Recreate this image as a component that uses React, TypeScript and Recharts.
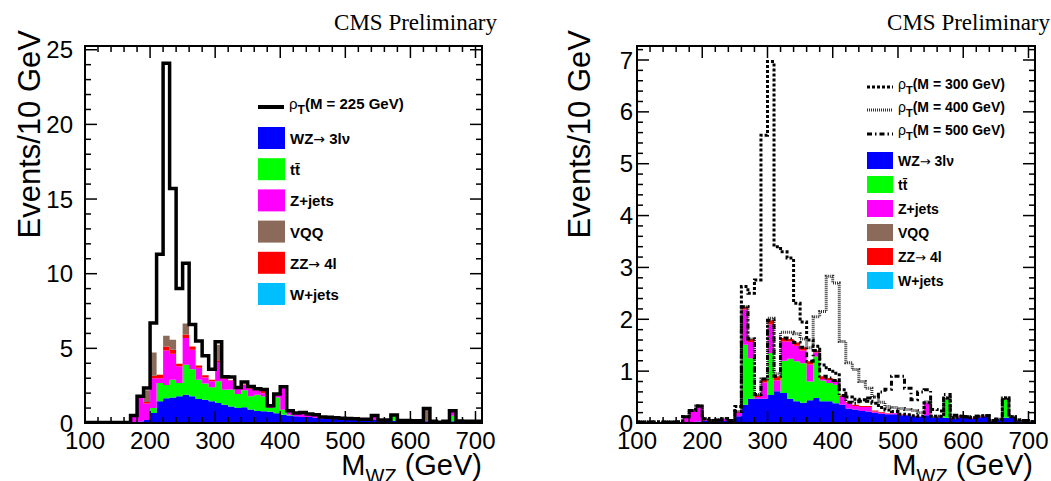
import React from "react";
import { ComposedChart, Area, Line, XAxis, YAxis } from "recharts";

// lower edges of the 10 GeV bins
const binLow = [
  100, 110, 120, 130, 140, 150, 160, 170, 180, 190,
  200, 210, 220, 230, 240, 250, 260, 270, 280, 290,
  300, 310, 320, 330, 340, 350, 360, 370, 380, 390,
  400, 410, 420, 430, 440, 450, 460, 470, 480, 490,
  500, 510, 520, 530, 540, 550, 560, 570, 580, 590,
  600, 610, 620, 630, 640, 650, 660, 670, 680, 690,
  700,
];

const xTicks = [
  100, 120, 140, 160, 180, 200, 220, 240, 260, 280, 300, 320, 340, 360, 380,
  400, 420, 440, 460, 480, 500, 520, 540, 560, 580, 600, 620, 640, 660, 680, 700,
];
const yTicksLeft = [
  0, 1, 2, 3, 4, 5, 6, 7, 8, 9, 10, 11, 12, 13, 14, 15, 16, 17, 18, 19, 20,
  21, 22, 23, 24, 25,
];
const yTicksRight = [
  0, 0.2, 0.4, 0.6, 0.8, 1, 1.2, 1.4, 1.6, 1.8, 2, 2.2, 2.4, 2.6, 2.8, 3, 3.2,
  3.4, 3.6, 3.8, 4, 4.2, 4.4, 4.6, 4.8, 5, 5.2, 5.4, 5.6, 5.8, 6, 6.2, 6.4,
  6.6, 6.8, 7, 7.2,
];

// ---- left panel (rho_T M = 225 GeV) ----
const leftWZ = [
  0.04, 0.04, 0.04, 0.04, 0.04, 0.04, 0.04, 0.05, 0.1, 0.2,
  0.67, 1.45, 1.65, 1.7, 1.8, 1.9, 1.8, 1.6, 1.55, 1.45,
  1.34, 1.23, 1.1, 1.0, 1.05, 0.9, 0.8, 0.78, 0.75, 0.65,
  0.56, 0.5, 0.45, 0.4, 0.4, 0.35, 0.3, 0.3, 0.28, 0.27,
  0.25, 0.25, 0.22, 0.2, 0.2, 0.18, 0.17, 0.15, 0.15, 0.14,
  0.13, 0.13, 0.12, 0.1, 0.05, 0.1, 0.12, 0.12, 0.1, 0.1,
  0.1,
];
const leftTT = [
  0, 0, 0, 0, 0, 0, 0, 0, 0, 0,
  0.33, 1.23, 0.9, 1.2, 0.88, 2.0, 1.8, 1.3, 1.1, 0.95,
  1.45, 1.0, 1.15, 0.95, 1.15, 0.9, 1.1, 1.0, 0.25, 1.05,
  0.33, 0.05, 0, 0, 0, 0, 0, 0, 0, 0,
  0, 0, 0, 0, 0, 0, 0, 0.38, 0, 0,
  0, 0, 0, 0, 0, 0, 0.37, 0, 0, 0,
  0,
];
const leftZJ = [
  0, 0, 0, 0, 0, 0, 0, 0.45, 1.65, 1.1,
  2.0, 0.32, 2.3, 1.74, 1.12, 1.8, 1.3, 0.8, 0.4, 0.4,
  1.29, 0.71, 0.6, 0.35, 0.35, 0.5, 0.3, 0.22, 0.08, 0.15,
  1.45, 0.25, 0.2, 0.3, 0.2, 0.2, 0.1, 0.08, 0.07, 0.05,
  0.05, 0.03, 0.03, 0.05, 0.3, 0.02, 0.03, 0, 0.02, 0.02,
  0.02, 0.02, 0, 0.02, 0, 0.02, 0.33, 0.02, 0.02, 0.02,
  0.02,
];
const leftZZ = [
  0, 0, 0, 0, 0, 0, 0, 0, 0, 0.1,
  0.17, 0.24, 0.27, 0.27, 0.17, 0.23, 0.23, 0.15, 0.15, 0.1,
  0.12, 0.05, 0.03, 0.03, 0.03, 0.1, 0.05, 0.2, 0.03, 0.05,
  0.05, 0.02, 0.02, 0, 0, 0, 0, 0, 0, 0,
  0, 0, 0, 0, 0, 0, 0, 0, 0, 0,
  0, 0, 0, 0, 0, 0, 0, 0, 0, 0,
  0,
];
const leftVQQ = [
  0, 0, 0, 0, 0, 0, 0, 0, 0, 0.8,
  1.56, 0, 0.72, 0.67, 0, 0.73, 0, 0, 0, 0,
  1.04, 0, 0, 0, 0, 0, 0, 0, 0, 0,
  0, 0, 0, 0, 0, 0, 0, 0, 0, 0,
  0, 0, 0, 0, 0, 0, 0, 0, 0, 0,
  0, 0, 0.85, 0, 0, 0, 0, 0, 0, 0,
  0,
];
const leftWJ = [
  0, 0, 0, 0, 0, 0, 0, 0, 0, 0,
  0, 0, 0, 0, 0, 0, 0, 0, 0, 0,
  0, 0, 0, 0, 0, 0, 0, 0, 0, 0,
  0, 0, 0, 0, 0, 0, 0, 0, 0, 0,
  0, 0, 0, 0, 0, 0, 0, 0, 0, 0,
  0, 0, 0, 0, 0, 0, 0, 0, 0, 0,
  0,
];
// signal excess above the background stack
const leftSig225 = [
  0, 0, 0, 0, 0, 0, 0, 0, 0.05, 0.15,
  1.97, 8.06, 18.26, 10.12, 5.03, 4.04, 1.47, 1.65, 1.3, 0.7,
  0.21, 0.11, 0.2, 0.05, 0.17, 0.05, 0.05, 0.05, 0.04, 0.05,
  0.03, 0, 0, 0, 0, 0, 0, 0, 0, 0,
  0, 0, 0, 0, 0, 0, 0, 0, 0, 0,
  0, 0, 0, 0, 0, 0, 0, 0, 0, 0,
  0,
];

// ---- right panel (rho_T M = 300/400/500 GeV) ----
const rightWZ = [
  0.02, 0.02, 0.02, 0.02, 0.02, 0.02, 0.02, 0.01, 0.02, 0.03,
  0.04, 0.03, 0.04, 0.04, 0.04, 0.13, 0.35, 0.47, 0.47, 0.47,
  0.54, 0.61, 0.58, 0.47, 0.42, 0.39, 0.44, 0.48, 0.42, 0.42,
  0.38, 0.35, 0.28, 0.26, 0.23, 0.22, 0.2, 0.18, 0.17, 0.17,
  0.15, 0.15, 0.13, 0.12, 0.15, 0.11, 0.1, 0.1, 0.09, 0.1,
  0.1, 0.08, 0.11, 0.12, 0.04, 0.07, 0.1, 0.12, 0.05, 0.04,
  0.03,
];
const rightTT = [
  0, 0, 0, 0, 0, 0, 0, 0, 0, 0,
  0, 0, 0, 0, 0, 0, 1.16, 0.78, 0, 0,
  0.81, 0, 0.62, 0.77, 0.77, 0.76, 0.36, 0.8, 0.4, 0.35,
  0.36, 0, 0, 0, 0, 0, 0, 0, 0, 0,
  0, 0, 0, 0, 0, 0, 0, 0.37, 0, 0,
  0, 0, 0, 0, 0, 0, 0.36, 0, 0, 0,
  0,
];
const rightZJ = [
  0, 0, 0, 0, 0, 0, 0, 0.11, 0.22, 0.3,
  0.04, 0.02, 0.02, 0.04, 0.01, 0.07, 0.68, 0.31, 0.03, 0.31,
  0.55, 0.21, 0.37, 0.33, 0.3, 0.25, 0.33, 0.08, 0.03, 0.06,
  0.05, 0.15, 0.1, 0.07, 0.08, 0.09, 0.02, 0.02, 0.01, 0.02,
  0.01, 0.01, 0.01, 0.01, 0.24, 0, 0.02, 0, 0.01, 0.02,
  0.01, 0.01, 0.01, 0.01, 0.01, 0, 0, 0, 0.01, 0.01,
  0,
];
const rightZZ = [
  0, 0, 0, 0, 0, 0, 0, 0, 0, 0,
  0, 0, 0, 0, 0, 0.02, 0.05, 0.06, 0.05, 0.07,
  0.08, 0.08, 0.07, 0.05, 0.06, 0.06, 0.06, 0.04, 0.05, 0.04,
  0.03, 0.03, 0.02, 0.02, 0.02, 0.02, 0.02, 0.01, 0.01, 0,
  0.01, 0, 0, 0, 0, 0.02, 0.01, 0.01, 0, 0.01,
  0.01, 0.01, 0.01, 0.01, 0, 0, 0.02, 0, 0, 0,
  0,
];
const rightVQQ = [
  0, 0, 0, 0, 0, 0, 0, 0, 0, 0,
  0, 0, 0, 0, 0, 0, 0, 0, 0, 0,
  0, 0, 0, 0, 0, 0, 0, 0, 0, 0,
  0, 0, 0, 0, 0, 0, 0, 0, 0, 0,
  0, 0, 0, 0, 0, 0, 0, 0, 0, 0,
  0, 0, 0, 0, 0, 0, 0, 0, 0, 0,
  0,
];
const rightWJ = [
  0, 0, 0, 0, 0, 0, 0, 0, 0, 0,
  0, 0, 0, 0, 0, 0, 0, 0, 0, 0,
  0, 0, 0, 0, 0, 0, 0, 0, 0, 0,
  0, 0, 0, 0, 0, 0, 0, 0, 0, 0,
  0, 0, 0, 0, 0, 0, 0, 0, 0, 0,
  0, 0, 0, 0, 0, 0, 0, 0, 0, 0,
  0,
];
const rightSig300 = [
  0, 0, 0, 0, 0, 0, 0, 0, 0, 0,
  0, 0, 0, 0, 0, 0.1, 0.39, 0.88, 2.21, 4.7,
  4.99, 2.5, 1.66, 1.56, 0.76, 0.49, 0.41, 0.08, 0.22, 0.16,
  0.14, 0.11, 0.1, 0.11, 0.12, 0.09, 0.14, 0.09, 0.06, 0.03,
  0, 0, 0, 0, 0, 0, 0, 0, 0, 0,
  0, 0, 0, 0, 0, 0, 0, 0, 0, 0,
  0,
];
const rightSig400 = [
  0, 0, 0, 0, 0, 0, 0, 0, 0, 0,
  0, 0, 0, 0, 0, 0, 0, 0, 0, 0,
  0.04, 0.05, 0.11, 0.13, 0.17, 0.16, 0.26, 0.65, 1.25, 1.96,
  1.88, 1.04, 0.76, 0.68, 0.47, 0.34, 0.26, 0.19, 0.13, 0.11,
  0.11, 0.1, 0.1, 0.07, 0.02, 0, 0, 0, 0, 0,
  0, 0, 0, 0, 0, 0, 0, 0, 0, 0,
  0,
];
const rightSig500 = [
  0, 0, 0, 0, 0, 0, 0, 0, 0, 0,
  0, 0, 0, 0, 0, 0, 0, 0, 0, 0,
  0, 0, 0, 0, 0, 0, 0, 0, 0, 0,
  0, 0, 0, 0.03, 0.09, 0.15, 0.26, 0.39, 0.46, 0.71,
  0.73, 0.51, 0.31, 0.47, 0.25, 0.13, 0.1, 0.07, 0.05, 0,
  0, 0, 0, 0, 0, 0, 0, 0, 0, 0,
  0,
];

const FONT = "'Liberation Sans', Arial, Helvetica, sans-serif";
const SERIF = "'Liberation Serif', 'Times New Roman', serif";

// stack order, bottom first
const stackDefs = [
  { key: "wz", color: "#0000ff" },
  { key: "tt", color: "#00ff00" },
  { key: "zj", color: "#ff00ff" },
  { key: "zz", color: "#ff0000" },
  { key: "vqq", color: "#8c6a5a" },
  { key: "wj", color: "#00bfff" },
];

function buildRows(
  stack: Record<string, number[]>,
  signals: Record<string, number[]>
) {
  const rows = binLow.map((m, i) => {
    const r: Record<string, number> = { m };
    let bkg = 0;
    for (const k in stack) {
      r[k] = stack[k][i];
      bkg += stack[k][i];
    }
    for (const s in signals) r[s] = bkg + signals[s][i];
    return r;
  });
  // closing edge so the last bin gets its full width with stepAfter
  rows.push({ ...rows[rows.length - 1], m: binLow[binLow.length - 1] + 10 });
  return rows;
}

type LineDef = { key: string; stroke: string; width: number; dash?: string };

function Panel(props: {
  rows: Record<string, number>[];
  left: number;
  width: number;
  margin: { top: number; right: number; bottom: number; left: number };
  yMax: number;
  yTicks: number[];
  isMajorY: (v: number) => boolean;
  yLabelGap: number;
  lines: LineDef[];
}) {
  const { rows, left, width, margin, yMax, yTicks, isMajorY, yLabelGap, lines } = props;

  // ROOT-style ticks: drawn inward from the frame
  const bottomTick = (p: any) => {
    const v = p.payload.value;
    const major = v % 100 === 0;
    return (
      <g>
        <line x1={p.x} x2={p.x} y1={p.y} y2={p.y - (major ? 12 : 6)} stroke="#000" strokeWidth={1.5} />
        {major && (
          <text x={p.x} y={p.y + 26} textAnchor="middle" fontFamily={FONT} fontSize={24} fill="#000">
            {v}
          </text>
        )}
      </g>
    );
  };
  const topTick = (p: any) => {
    const major = p.payload.value % 100 === 0;
    return <line x1={p.x} x2={p.x} y1={p.y} y2={p.y + (major ? 12 : 6)} stroke="#000" strokeWidth={1.5} />;
  };
  const leftTick = (p: any) => {
    const v = p.payload.value;
    const major = isMajorY(v);
    return (
      <g>
        <line x1={p.x} x2={p.x + (major ? 12 : 6)} y1={p.y} y2={p.y} stroke="#000" strokeWidth={1.5} />
        {major && (
          <text x={p.x - yLabelGap} y={p.y + 8.5} textAnchor="end" fontFamily={FONT} fontSize={24} fill="#000">
            {Math.round(v)}
          </text>
        )}
      </g>
    );
  };
  const rightTick = (p: any) => {
    const major = isMajorY(p.payload.value);
    return <line x1={p.x} x2={p.x - (major ? 12 : 6)} y1={p.y} y2={p.y} stroke="#000" strokeWidth={1.5} />;
  };

  return (
    <div style={{ position: "absolute", left, top: 0 }}>
      <ComposedChart width={width} height={481} data={rows} margin={margin}>
        {stackDefs.map((s) => (
          <Area
            key={s.key}
            xAxisId="b"
            yAxisId="l"
            type="stepAfter"
            dataKey={s.key}
            stackId="bkg"
            fill={s.color}
            fillOpacity={1}
            stroke="none"
            dot={false}
            activeDot={false}
            isAnimationActive={false}
          />
        ))}
        {lines.map((l) => (
          <Line
            key={l.key}
            xAxisId="b"
            yAxisId="l"
            type="stepAfter"
            dataKey={l.key}
            stroke={l.stroke}
            strokeWidth={l.width}
            strokeDasharray={l.dash}
            strokeLinecap="butt"
            dot={false}
            activeDot={false}
            isAnimationActive={false}
          />
        ))}
        <Line
          xAxisId="t"
          yAxisId="r"
          dataKey="wz"
          stroke="none"
          dot={false}
          activeDot={false}
          isAnimationActive={false}
        />
        <XAxis
          xAxisId="b"
          dataKey="m"
          type="number"
          domain={[100, 710]}
          allowDataOverflow
          ticks={xTicks}
          interval={0}
          height={1}
          tickSize={0}
          tickMargin={0}
          axisLine={false}
          tickLine={false}
          tick={bottomTick}
        />
        <XAxis
          xAxisId="t"
          orientation="top"
          dataKey="m"
          type="number"
          domain={[100, 710]}
          allowDataOverflow
          ticks={xTicks}
          interval={0}
          height={1}
          tickSize={0}
          tickMargin={0}
          axisLine={false}
          tickLine={false}
          tick={topTick}
        />
        <YAxis
          yAxisId="l"
          type="number"
          domain={[0, yMax]}
          allowDataOverflow
          ticks={yTicks}
          interval={0}
          width={1}
          tickSize={0}
          tickMargin={0}
          axisLine={false}
          tickLine={false}
          tick={leftTick}
        />
        <YAxis
          yAxisId="r"
          orientation="right"
          type="number"
          domain={[0, yMax]}
          allowDataOverflow
          ticks={yTicks}
          interval={0}
          width={1}
          tickSize={0}
          tickMargin={0}
          axisLine={false}
          tickLine={false}
          tick={rightTick}
        />
      </ComposedChart>
    </div>
  );
}

const boxLabels = [
  { color: "#0000ff", label: "WZ", arrow: " 3l\u03bd" },
  { color: "#00ff00", label: "t\u0074\u0304" },
  { color: "#ff00ff", label: "Z+jets" },
  { color: "#8c6a5a", label: "VQQ" },
  { color: "#ff0000", label: "ZZ", arrow: " 4l" },
  { color: "#00bfff", label: "W+jets" },
];

function LegendText(props: { x: number; y: number; size: number; label: string; arrow?: string }) {
  const { x, y, size, label, arrow } = props;
  return (
    <text x={x} y={y} fontFamily={FONT} fontSize={size} fontWeight="bold" fill="#000">
      {label}
      {arrow !== undefined && (
        <>
          <tspan fontWeight="normal" fontFamily="'DejaVu Sans', sans-serif" fontSize={size - 1}>{"\u2192"}</tspan>
          <tspan>{arrow}</tspan>
        </>
      )}
    </text>
  );
}

function RhoLabel(props: { x: number; y: number; size: number; mass: string }) {
  const { x, y, size, mass } = props;
  return (
    <text x={x} y={y} fontFamily={FONT} fontSize={size} fontWeight="bold" fill="#000">
      <tspan fontWeight="normal">{"\u03c1"}</tspan>
      <tspan dy={5} fontSize={size - 3}>T</tspan>
      <tspan dy={-5}>{`(M = ${mass} GeV)`}</tspan>
    </text>
  );
}

export default function App() {
  const leftRows = buildRows(
    { wz: leftWZ, tt: leftTT, zj: leftZJ, zz: leftZZ, vqq: leftVQQ, wj: leftWJ },
    { tot225: leftSig225 }
  );
  const rightRows = buildRows(
    { wz: rightWZ, tt: rightTT, zj: rightZJ, zz: rightZZ, vqq: rightVQQ, wj: rightWJ },
    { tot300: rightSig300, tot400: rightSig400, tot500: rightSig500 }
  );

  return (
    <div style={{ position: "absolute", left: 0, top: 0, width: 1051, height: 481, background: "#fff", overflow: "hidden" }}>
      <Panel
        rows={leftRows}
        left={0}
        width={520}
        margin={{ top: 45, right: 37, bottom: 57, left: 84 }}
        yMax={25.25}
        yTicks={yTicksLeft}
        isMajorY={(v) => v % 5 === 0}
        yLabelGap={12}
        lines={[{ key: "tot225", stroke: "#000", width: 3.5 }]}
      />
      <Panel
        rows={rightRows}
        left={540}
        width={511}
        margin={{ top: 45, right: 15, bottom: 57, left: 96 }}
        yMax={7.27}
        yTicks={yTicksRight}
        isMajorY={(v) => Math.abs(v - Math.round(v)) < 1e-6}
        yLabelGap={4}
        lines={[
          { key: "tot400", stroke: "#333", width: 3, dash: "1 1" },
          { key: "tot500", stroke: "#000", width: 3, dash: "5 3 1.5 3" },
          { key: "tot300", stroke: "#000", width: 3, dash: "3 2" },
        ]}
      />
      <svg width={1051} height={481} style={{ position: "absolute", left: 0, top: 0, pointerEvents: "none" }}>
        {/* frames */}
        <rect x={85} y={46} width={397} height={377} fill="none" stroke="#000" strokeWidth={2} />
        <rect x={637} y={46} width={398} height={377} fill="none" stroke="#000" strokeWidth={2} />

        {/* titles */}
        <text x={497} y={30} textAnchor="end" fontFamily={SERIF} fontSize={23} fill="#000">CMS Preliminary</text>
        <text x={1050} y={30} textAnchor="end" fontFamily={SERIF} fontSize={23} fill="#000">CMS Preliminary</text>

        {/* y titles */}
        <text transform="translate(40,30) rotate(-90)" textAnchor="end" fontFamily={FONT} fontSize={31} fill="#000">Events/10 GeV</text>
        <text transform="translate(590,30) rotate(-90)" textAnchor="end" fontFamily={FONT} fontSize={31} fill="#000">Events/10 GeV</text>

        {/* x titles (cut by the bottom edge as in the original) */}
        <text x={482} y={475} textAnchor="end" fontFamily={FONT} fontSize={29} fill="#000">
          M<tspan dy={8} fontSize={20}>WZ</tspan><tspan dy={-8}> (GeV)</tspan>
        </text>
        <text x={1033} y={475} textAnchor="end" fontFamily={FONT} fontSize={29} fill="#000">
          M<tspan dy={8} fontSize={20}>WZ</tspan><tspan dy={-8}> (GeV)</tspan>
        </text>

        {/* left legend */}
        <line x1={258} x2={284} y1={107} y2={107} stroke="#000" strokeWidth={4} />
        <RhoLabel x={289} y={109} size={15} mass="225" />
        {boxLabels.map((b, i) => (
          <g key={b.color}>
            <rect x={258} y={127 + i * 31.2} width={27} height={22} fill={b.color} />
            <LegendText x={290} y={144 + i * 31.2} size={15} label={b.label} arrow={b.arrow} />
          </g>
        ))}

        {/* right legend */}
        <line x1={867} x2={893} y1={87} y2={87} stroke="#000" strokeWidth={3} strokeDasharray="3 2" />
        <RhoLabel x={898} y={89} size={14} mass="300" />
        <line x1={867} x2={893} y1={110} y2={110} stroke="#333" strokeWidth={3} strokeDasharray="1 1" />
        <RhoLabel x={898} y={112} size={14} mass="400" />
        <line x1={867} x2={893} y1={134} y2={134} stroke="#000" strokeWidth={3} strokeDasharray="5 3 1.5 3" />
        <RhoLabel x={898} y={135} size={14} mass="500" />
        {boxLabels.map((b, i) => (
          <g key={"r" + b.color}>
            <rect x={867} y={152 + i * 24} width={26} height={17} fill={b.color} />
            <LegendText x={898} y={166 + i * 24} size={14} label={b.label} arrow={b.arrow} />
          </g>
        ))}
      </svg>
    </div>
  );
}
